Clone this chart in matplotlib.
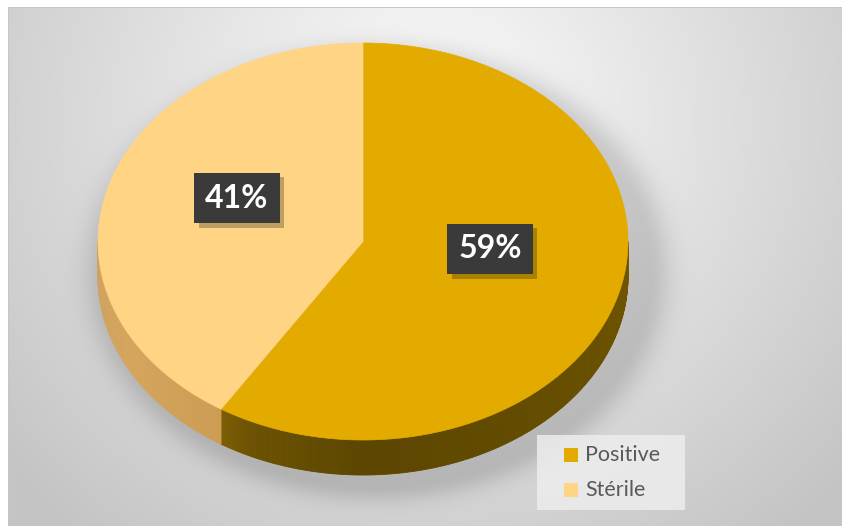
import numpy as np
import matplotlib
matplotlib.use("Agg")
import matplotlib.pyplot as plt
from matplotlib.patches import Polygon, Rectangle
import matplotlib.patheffects as pe

# ---- data ----
categories = ["Positive", "Stérile"]
values = [59, 41]
top_colors = ["#E3AB00", "#FFD485"]
# side-wall shades (angle clockwise from top in degrees, rgb 0-255)
side_shades = [
    [(90, (112, 86, 0)), (140, (100, 76, 0)), (180, (92, 70, 0)), (205, (108, 82, 2)), (213, (126, 95, 6))],
    [(212, (206, 156, 84)), (240, (214, 165, 92)), (270, (206, 162, 96))],
]

W, H = 842, 526
fig = plt.figure(figsize=(W / 100, H / 100), dpi=100)
fig.patch.set_facecolor("white")
ax = fig.add_axes([0, 0, 1, 1])
ax.set_xlim(0, W)
ax.set_ylim(H, 0)
ax.axis("off")

# pie geometry (pixels)
cx, cy = 363.0, 241.5
ra, rb = 265.0, 198.5
depth = 35.0

# ---- background: radial grey gradient with soft shadow under the pie ----
yy, xx = np.mgrid[0:H, 0:W] + 0.5
t = np.sqrt(((xx - 430) / 480) ** 2 + ((yy - 120) / 460) ** 2)
bg = np.clip(0.99 - 0.19 * t, 0.77, 1.0)
d = np.sqrt(((xx - 378) / 270) ** 2 + ((yy - 272) / 212) ** 2)
shadow = 0.13 * np.exp(-((np.clip(d - 1.0, 0, None)) / 0.09) ** 2)
bg = bg - shadow
img = np.dstack([bg, bg, bg])
panel = (xx >= 9) & (yy >= 8)
img[~panel] = 1.0
edge = ((yy >= 7) & (yy < 8.5) & (xx >= 9)) | ((xx >= 8) & (xx < 9.5) & (yy >= 7))
img[edge] = 0.78
ax.imshow(img, extent=(0, W, H, 0), interpolation="bilinear", zorder=0)


def ell(theta_deg, dy=0.0):
    th = np.radians(theta_deg)
    return cx + ra * np.sin(th), cy - rb * np.cos(th) + dy


def shade_at(shades, a):
    angs = [s[0] for s in shades]
    cols = np.array([s[1] for s in shades], dtype=float)
    return tuple(np.interp(a, angs, cols[:, k]) / 255 for k in range(3))


total = float(sum(values))
bounds = np.concatenate([[0], np.cumsum(values) / total * 360])

# ---- side walls (front half only) ----
for i in range(len(values)):
    a0, a1 = max(bounds[i], 90), min(bounds[i + 1], 270)
    if a1 <= a0:
        continue
    n = max(int((a1 - a0) * 2), 2)
    angs = np.linspace(a0, a1, n + 1)
    for j in range(n):
        p, q = angs[j], angs[j + 1]
        x0, y0 = ell(p)
        x1, y1 = ell(q)
        col = shade_at(side_shades[i], 0.5 * (p + q))
        ax.add_patch(Polygon([(x0, y0), (x1, y1), (x1, y1 + depth), (x0, y0 + depth)],
                             closed=True, facecolor=col, edgecolor=col, linewidth=0.6, zorder=2))

# ---- top faces ----
for i in range(len(values)):
    angs = np.linspace(bounds[i], bounds[i + 1], 300)
    pts = [(cx, cy)] + [ell(a) for a in angs]
    ax.add_patch(Polygon(pts, closed=True, facecolor=top_colors[i],
                         edgecolor=top_colors[i], linewidth=0.5, zorder=3))

# ---- data labels ----
label_pos = [(490, 249), (237, 198)]
for i, v in enumerate(values):
    x, y = label_pos[i]
    lbl = ax.text(x, y, f"{v}%", ha="center", va="center", fontsize=23, fontweight="bold",
                  family="Lato", color="white", zorder=5,
                  bbox=dict(boxstyle="square,pad=0.34", fc="#3a3a3a", ec="none"))
    lbl.get_bbox_patch().set_path_effects(
        [pe.SimplePatchShadow(offset=(3, -3), shadow_rgbFace="black", alpha=0.25), pe.Normal()])

# ---- legend ----
ax.add_patch(Rectangle((537, 435), 148, 75, facecolor=(0.93, 0.93, 0.93, 0.85),
                       edgecolor="none", zorder=6))
for i, name in enumerate(categories):
    ly = 455 + 35 * i
    ax.add_patch(Rectangle((564, ly - 7), 14, 14, facecolor=top_colors[i], edgecolor="none", zorder=7))
    ax.text(585, ly, name, ha="left", va="center", fontsize=15.5, family="Lato",
            color="#595959", zorder=7)

fig.savefig("out.png", dpi=100, facecolor="white")
